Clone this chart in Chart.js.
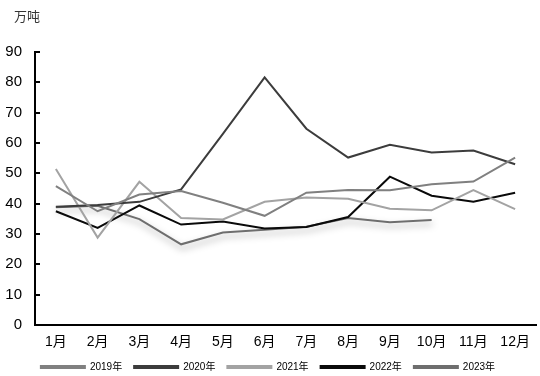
<!DOCTYPE html>
<html>
<head>
<meta charset="utf-8">
<script src="https://cdn.jsdelivr.net/npm/chart.js@4/dist/chart.umd.min.js"></script>
<style>
html,body{margin:0;padding:0;background:#fff;}
#wrap{width:540px;height:376px;position:relative;}
</style>
</head>
<body>
<div id="wrap"><canvas id="c" width="540" height="376"></canvas></div>
<script>
const months = ['1月','2月','3月','4月','5月','6月','7月','8月','9月','10月','11月','12月'];
const yTicks = [0,10,20,30,40,50,60,70,80,90];
const unitLabel = '万吨';
const seriesNames = ['2019年','2020年','2021年','2022年','2023年'];
const s2019 = [45.8, 37.5, 43.0, 44.2, 40.3, 36.0, 43.6, 44.5, 44.4, 46.4, 47.3, 55.2];
const s2020 = [39.0, 39.6, 40.6, 44.7, 63.0, 81.6, 64.7, 55.2, 59.4, 56.9, 57.5, 53.0];
const s2021 = [51.4, 28.8, 47.2, 35.3, 34.8, 40.6, 42.0, 41.6, 38.3, 37.8, 44.5, 38.2];
const s2022 = [37.5, 32.0, 39.4, 33.1, 34.1, 31.8, 32.3, 35.6, 48.9, 42.6, 40.6, 43.6];
const s2023 = [38.8, 39.3, 34.9, 26.6, 30.5, 31.4, 32.4, 35.3, 33.9, 34.6, null, null];

const colors = ['#808080', '#3c3c3c', '#a3a3a3', '#0a0a0a', '#6e6e6e'];
const allSeries = [s2019, s2020, s2021, s2022, s2023];

const datasets = allSeries.map((d, i) => ({
  label: seriesNames[i],
  data: d,
  borderColor: colors[i],
  backgroundColor: colors[i],
  borderWidth: 2,
  pointRadius: 0,
  tension: 0,
  fill: false,
  spanGaps: false
}));

const shadowPlugin = {
  id: 'shadow',
  beforeDatasetDraw(chart, args) {
    if (args.index === 4) {
      const ctx = chart.ctx;
      ctx.save();
      ctx.shadowColor = 'rgba(0,0,0,0.35)';
      ctx.shadowBlur = 7;
      ctx.shadowOffsetX = 1;
      ctx.shadowOffsetY = 4;
    }
  },
  afterDatasetDraw(chart, args) {
    if (args.index === 4) chart.ctx.restore();
  }
};

const extrasPlugin = {
  id: 'extras',
  afterDraw(chart) {
    const ctx = chart.ctx;
    const y = chart.scales.y;
    const x0 = chart.chartArea.left;
    ctx.save();
    ctx.strokeStyle = '#000';
    ctx.lineWidth = 2;
    yTicks.forEach(v => {
      const py = Math.round(y.getPixelForValue(v)) ;
      ctx.beginPath();
      ctx.moveTo(x0, py);
      ctx.lineTo(x0 + 5, py);
      ctx.stroke();
    });
    ctx.fillStyle = '#333';
    ctx.font = '13px "Noto Sans CJK SC"';
    ctx.textBaseline = 'middle';
    ctx.textAlign = 'left';
    ctx.fillText(unitLabel, 14, 16);
    ctx.restore();
  }
};

new Chart(document.getElementById('c'), {
  type: 'line',
  data: { labels: months, datasets },
  options: {
    responsive: false,
    animation: false,
    devicePixelRatio: 1,
    layout: { padding: { left: 0, right: 4, top: 52, bottom: -6 } },
    plugins: {
      legend: {
        position: 'bottom',
        labels: {
          boxWidth: 44,
          boxHeight: 2,
          padding: 12,
          color: '#000',
          font: { size: 10, family: '"Liberation Sans", "Noto Sans CJK SC"' }
        }
      },
      tooltip: { enabled: false },
      title: { display: false }
    },
    scales: {
      x: {
        type: 'category',
        offset: true,
        grid: { display: true, drawOnChartArea: false, drawTicks: false },
        border: { display: true, color: '#000', width: 2 },
        ticks: {
          color: '#000',
          padding: 9,
          maxRotation: 0,
          autoSkip: false,
          font: { size: 14, family: '"Liberation Sans", "Noto Sans CJK SC"' }
        },
        afterFit(scale) { scale.height = 25; }
      },
      y: {
        min: 0,
        max: 90,
        grid: { display: true, drawOnChartArea: false, drawTicks: false },
        border: { display: true, color: '#000', width: 2 },
        afterBuildTicks(scale) { scale.ticks = yTicks.map(v => ({ value: v })); },
        ticks: {
          color: '#000',
          padding: 13,
          font: { size: 15, family: '"Liberation Sans", "Noto Sans CJK SC"' }
        },
        afterFit(scale) { scale.width = 35; }
      }
    }
  },
  plugins: [shadowPlugin, extrasPlugin]
});
</script>
</body>
</html>
